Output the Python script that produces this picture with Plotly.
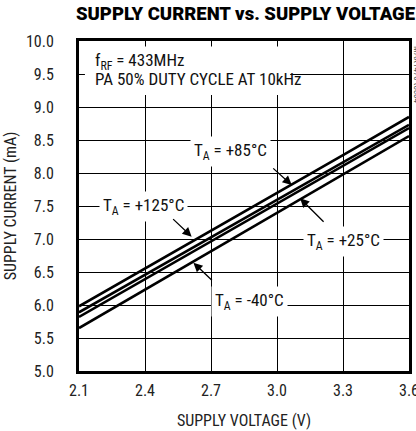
import plotly.graph_objects as go

# Data
voltage = [2.1, 2.4, 2.7, 3.0, 3.3, 3.6]
i_125 = [5.98, 6.55, 7.13, 7.70, 8.27, 8.85]
i_85 = [5.89, 6.46, 7.03, 7.59, 8.16, 8.73]
i_25 = [5.82, 6.39, 6.96, 7.54, 8.11, 8.68]
i_m40 = [5.65, 6.23, 6.81, 7.40, 7.98, 8.56]

x_ticks = [2.1, 2.4, 2.7, 3.0, 3.3, 3.6]
y_ticks = [5.0, 5.5, 6.0, 6.5, 7.0, 7.5, 8.0, 8.5, 9.0, 9.5, 10.0]

FONT = "Roboto Condensed, DejaVu Sans Condensed, sans-serif"

fig = go.Figure()
for ys in [i_125, i_85, i_25, i_m40]:
    fig.add_trace(go.Scatter(x=voltage, y=ys, mode="lines",
                             line=dict(color="black", width=2.6),
                             showlegend=False, hoverinfo="skip"))

ann = []
ann.append(dict(x=2.164, y=9.697, xref="x", yref="y", xanchor="left", yanchor="middle",
                text="f<sub>RF</sub> = 433MHz", align="left", showarrow=False,
                font=dict(family=FONT, size=17, color="#111")))
ann.append(dict(x=2.164, y=9.425, xref="x", yref="y", xanchor="left", yanchor="middle",
                text="PA 50% DUTY CYCLE AT 10kHz", align="left", showarrow=False,
                font=dict(family=FONT, size=17, color="#111")))
labels = [
    ("T<sub>A</sub> = +85°C", 2.789, 8.33),
    ("T<sub>A</sub> = +125°C", 2.391, 7.5),
    ("T<sub>A</sub> = +25°C", 3.302, 6.955),
    ("T<sub>A</sub> = -40°C", 2.877, 6.06),
]
for t, x, y in labels:
    ann.append(dict(x=x, y=y, xref="x", yref="y", text=t, showarrow=False,
                    bgcolor="white", borderpad=3,
                    font=dict(family=FONT, size=17, color="#111")))
arrows = [
    (2.612, 7.035, -20, -19),
    (2.620, 6.641, 20, 19),
    (3.067, 7.818, -20, -18),
    (3.105, 7.617, 25, 25),
]
for x, y, ax, ay in arrows:
    ann.append(dict(x=x, y=y, xref="x", yref="y", ax=ax, ay=ay, text="",
                    showarrow=True, arrowhead=2, arrowsize=1.4, arrowwidth=1.3,
                    arrowcolor="black"))
ann.append(dict(x=1.0, y=1.0, xref="paper", yref="paper", xanchor="left", yanchor="top",
                xshift=1, yshift=-3,
                text="MAX1470 toc04", textangle=90, showarrow=False,
                font=dict(family=FONT, size=9, color="#555")))
ann.append(dict(x=0.5, y=1.0, xref="paper", yref="paper", xanchor="center", yanchor="bottom",
                yshift=14, xshift=2,
                text="SUPPLY CURRENT vs. SUPPLY VOLTAGE", showarrow=False,
                font=dict(family="Roboto, sans-serif", size=18.5, color="black", weight=900)))

fig.update_layout(
    width=416, height=431,
    margin=dict(l=79, r=7, t=41, b=60),
    paper_bgcolor="white", plot_bgcolor="white",
    font=dict(family=FONT, size=16, color="#222"),
    annotations=ann,
    shapes=[dict(type="rect", xref="x", yref="y", x0=2.127, x1=3.06, y0=9.18, y1=9.915,
                 fillcolor="white", line=dict(width=0), layer="above")],
)
fig.update_xaxes(range=[2.1, 3.6], tickvals=x_ticks, ticktext=[f"{v:.1f}" for v in x_ticks],
                 showgrid=True, gridcolor="black", gridwidth=1, automargin=False,
                 showline=True, linecolor="black", linewidth=3, mirror=True,
                 ticks="", zeroline=False, ticklabelstandoff=3, ticklabeloverflow="allow",
                 title=dict(text="SUPPLY VOLTAGE (V)", standoff=16, font=dict(size=16)),
                 tickfont=dict(size=16))
fig.update_yaxes(range=[5.0, 10.0], tickvals=y_ticks, ticktext=[f"{v:.1f}" for v in y_ticks],
                 showgrid=True, gridcolor="black", gridwidth=1, automargin=False,
                 showline=True, linecolor="black", linewidth=3, mirror=True,
                 ticks="", zeroline=False, ticklabelstandoff=19,
                 title=dict(text="SUPPLY CURRENT (mA)", standoff=6, font=dict(size=16)),
                 tickfont=dict(size=16))

fig.write_html("out.html", config={"displayModeBar": False},
               post_script="document.body.style.margin='0';")
